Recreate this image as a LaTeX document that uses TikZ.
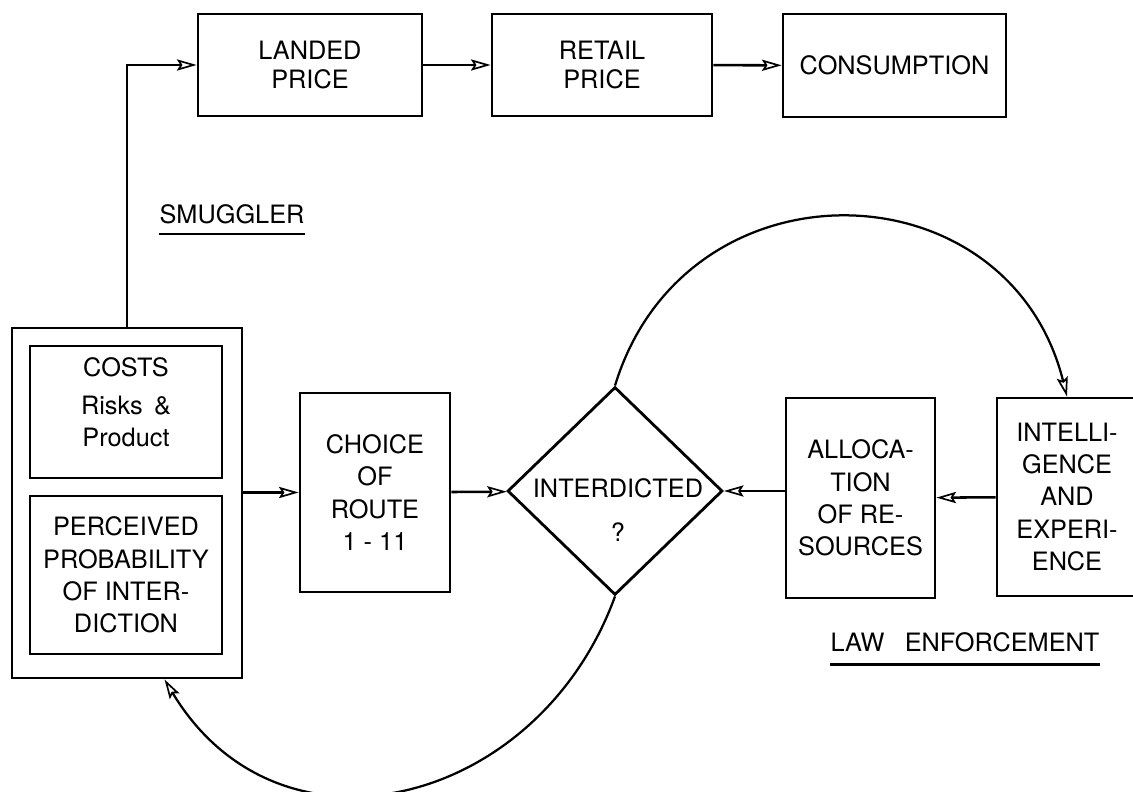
\documentclass[tikz,border=0pt]{standalone}
\usepackage{fontspec}
\setmainfont{TeX Gyre Heros}
\usetikzlibrary{arrows.meta,shapes.geometric}

\begin{document}
\begin{tikzpicture}[x=0.25mm, y=0.25mm,
    blk/.style={draw, line width=2pt, align=center, inner sep=0pt, font=\fontsize{18}{23}\selectfont},
    lbl/.style={align=center, inner sep=0pt, font=\fontsize{18}{23}\selectfont},
    arr/.style={line width=1.8pt, -{Stealth[open, length=14pt, width=8pt, inset=2.5pt, line width=1.2pt]}},
    curvearr/.style={line width=1.6pt, -{Stealth[open, length=14pt, width=8pt, inset=2.5pt, line width=1.2pt]}}]
    \useasboundingbox (0,0) rectangle (1133,792);

    % smuggler side
    \node[blk, minimum width=5.75cm, minimum height=8.75cm] (smug) at (127,289) {};
    \node[blk, minimum width=4.8cm, minimum height=3.3cm] (costs) at (126,380) {};
    \node[lbl] (coststxt) at (126,390) {COSTS\\[4pt]Risks \,\&\\Product};
    \node[blk, minimum width=4.8cm, minimum height=3.95cm] (perc) at (126,217) {PERCEIVED\\PROBABILITY\\OF INTER-\\DICTION};
    \node[blk, minimum width=3.75cm, minimum height=4.975cm] (choice) at (375,299.5) {CHOICE\\OF\\ROUTE\\1 - 11};

    % decision
    \node[diamond, draw, line width=2pt, minimum width=5.375cm, minimum height=5.2cm, inner sep=0pt] (inter) at (615,301) {};
    \node[lbl] (intertxt) at (618,282) {INTERDICTED\\[8pt]?};

    % top row
    \node[blk, minimum width=5.6cm, minimum height=2.55cm, font=\fontsize{18}{20}\selectfont] (landed) at (310,727) {LANDED\\PRICE};
    \node[blk, minimum width=5.5cm, minimum height=2.55cm, font=\fontsize{18}{20}\selectfont] (retail) at (602,727) {RETAIL\\PRICE};
    \node[blk, minimum width=5.575cm, minimum height=2.575cm] (cons) at (894.5,726.5) {CONSUMPTION};

    % law enforcement side
    \node[blk, minimum width=3.725cm, minimum height=5cm] (alloc) at (860.5,294) {ALLOCA-\\TION\\OF RE-\\SOURCES};
    \node[blk, minimum width=3.5cm, minimum height=4.95cm] (intel) at (1067,295) {INTELLI-\\GENCE\\AND\\EXPERI-\\ENCE};

    % labels
    \node[lbl, anchor=base] (smuglbl) at (232,568) {SMUGGLER};
    \draw[line width=1.8pt] ([yshift=-7pt]smuglbl.base west) -- ([yshift=-7pt]smuglbl.base east);
    \node[lbl, anchor=base] (lawlbl) at (965,140) {LAW\hspace{0.8em}ENFORCEMENT};
    \draw[line width=1.8pt] ([yshift=-9pt]lawlbl.base west) -- ([yshift=-9pt]lawlbl.base east);

    % connectors
    \draw[arr] (smug.north) |- (landed.west);
    \draw[arr] (landed) -- (retail);
    \draw[arr] (retail) -- (cons);
    \draw[arr] (choice.west -| smug.east) -- (choice.west);
    \draw[arr] (choice) -- (inter);
    \draw[arr] (alloc.west |- inter.east) -- (inter.east);
    \draw[arr] (intel) -- (alloc);
    \draw[curvearr] (inter.north) to[out=73, in=104, looseness=1.36] (intel.north);
    \draw[curvearr] (inter.south) to[out=250, in=301, looseness=1.25] (smug.-78);
\end{tikzpicture}
\end{document}
